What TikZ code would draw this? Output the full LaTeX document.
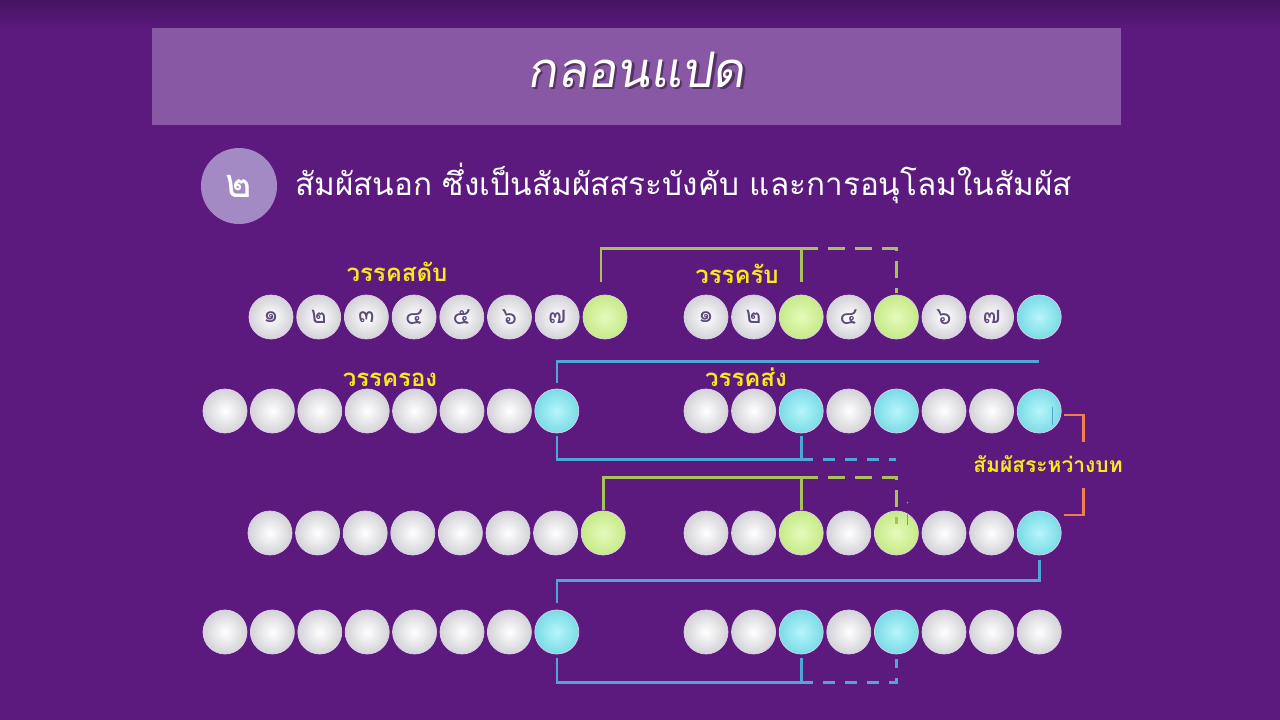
\documentclass[tikz,border=0pt]{standalone}
\usepackage{fontspec}
\usetikzlibrary{calc}
\newfontfamily\thai[Script=Thai]{Loma}
\newfontfamily\thaisl[Script=Thai,FakeSlant=0.15]{Loma}
\definecolor{bg}{HTML}{5C1A7F}
\definecolor{bgdark}{HTML}{461463}
\definecolor{titlebg}{HTML}{8858A4}
\definecolor{numbg}{HTML}{A48AC4}
\definecolor{digit}{HTML}{5E4B7E}
\definecolor{rim}{HTML}{DCCFE8}
\definecolor{wgrey}{HTML}{D3D3D8}
\definecolor{gin}{HTML}{E4FBBC}
\definecolor{gout}{HTML}{C6EA88}
\definecolor{cin}{HTML}{B6F6FA}
\definecolor{cout}{HTML}{7ADBE6}
\definecolor{gline}{HTML}{A8C25A}
\definecolor{cline}{HTML}{4FA7D8}
\definecolor{oline}{HTML}{EF7E50}
\definecolor{yell}{HTML}{F6EA1E}
\newcommand\digfont{\thai\fontsize{24}{24}\selectfont\color{digit}}
\begin{document}
\begin{tikzpicture}[x=1pt,y=-1pt,
  ball/.style={circle, minimum size=44pt, inner sep=0pt, draw=rim, line width=0.7pt},
  wb/.style={ball, inner color=white, outer color=wgrey},
  gb/.style={ball, inner color=gin, outer color=gout},
  cb/.style={ball, inner color=cin, outer color=cout},
  gl/.style={draw=gline, line width=2.6pt},
  cl/.style={draw=cline, line width=2.6pt},
  ol/.style={draw=oline, line width=2.6pt},
  lab/.style={text=yell, anchor=base, inner sep=0pt, font={\thai\bfseries\fontsize{24}{24}\selectfont}}]
\fill[bg] (0,0) rectangle (1280,720);
\useasboundingbox (0,0) rectangle (1280,720);
\shade[top color=bgdark, bottom color=bg] (0,0) rectangle (1280,30);
% title
\node[fill=titlebg, minimum width=969pt, minimum height=97pt, inner sep=0pt] (titlebox) at (636.5,76.5) {};
\node[anchor=base, inner sep=0pt, text=black, opacity=0.4] (tshadow) at (638.5,89.5) {\thaisl\fontsize{49}{49}\selectfont กลอนแปด};
\node[anchor=base, inner sep=0pt, text=white] (title) at (636,87) {\thaisl\fontsize{49}{49}\selectfont กลอนแปด};
% subtitle
\node[circle, fill=numbg, minimum size=76pt, inner sep=0pt] (num) at (239,186) {\thai\fontsize{40}{40}\selectfont\color{white}๒};
\node[anchor=base west, inner sep=0pt, text=white] (sub) at (295,195) {\thai\fontsize{31.5}{31.5}\selectfont สัมผัสนอก ซึ่งเป็นสัมผัสสระบังคับ และการอนุโลมในสัมผัส};
% labels
\node[lab] (l1) at (397,281) {วรรคสดับ};
\node[lab] (l2) at (737,283) {วรรครับ};
\node[lab] (l3) at (390,386) {วรรครอง};
\node[lab] (l4) at (746,386) {วรรคส่ง};
\node[lab, font={\thai\bfseries\fontsize{21}{21}\selectfont}] (l5) at (1048,472) {สัมผัสระหว่างบท};
% row 1
\foreach \i/\t in {1/๑,2/๒,3/๓,4/๔,5/๕,6/๖,7/๗}
  \node[wb] (a\i) at ({271+47.7*(\i-1)},317) {\digfont\t};
\node[gb] (a8) at (605,317) {};
\foreach \i/\s/\t in {1/wb/๑,2/wb/๒,3/gb/,4/wb/๔,5/gb/,6/wb/๖,7/wb/๗,8/cb/}
  \node[\s] (b\i) at ({706+47.6*(\i-1)},317) {\digfont\t};
% row 2
\foreach \i/\s in {1/wb,2/wb,3/wb,4/wb,5/wb,6/wb,7/wb,8/cb}
  \node[\s] (c\i) at ({225+47.4*(\i-1)},411) {};
\foreach \i/\s in {1/wb,2/wb,3/cb,4/wb,5/cb,6/wb,7/wb,8/cb}
  \node[\s] (d\i) at ({706+47.6*(\i-1)},411) {};
% row 3
\foreach \i/\s in {1/wb,2/wb,3/wb,4/wb,5/wb,6/wb,7/wb,8/gb}
  \node[\s] (e\i) at ({270+47.6*(\i-1)},533) {};
\foreach \i/\s in {1/wb,2/wb,3/gb,4/wb,5/gb,6/wb,7/wb,8/cb}
  \node[\s] (f\i) at ({706+47.6*(\i-1)},533) {};
% row 4
\foreach \i/\s in {1/wb,2/wb,3/wb,4/wb,5/wb,6/wb,7/wb,8/cb}
  \node[\s] (g\i) at ({225+47.4*(\i-1)},632) {};
\foreach \i/\s in {1/wb,2/wb,3/cb,4/wb,5/cb,6/wb,7/wb,8/wb}
  \node[\s] (h\i) at ({706+47.6*(\i-1)},632) {};
% connectors row 1 -> 2
\draw[gl, shorten <=13pt, shorten >=13pt] ($(a8.north)+(-4,0)$) -- ++(0,-46) -| (b3.north);
\draw[gl, dash pattern=on 17pt off 10pt, shorten >=2pt] ($(b3.north)+(0,-46)$) -| (b5.north);
\draw[cl, shorten <=6pt] (c8.north) |- ($(b8.south)+(0,22)$);
\draw[cl, shorten <=3pt, shorten >=3pt] (c8.south) -- ++(0,26) -| (d3.south);
\draw[cl, dash pattern=on 12pt off 10pt] ($(d3.south)+(0,26)$) -- ($(d5.south)+(0,26)$);
\draw[cline, line width=1.4pt] ($(d8.center)+(13,-4)$) -- ++(0,18);
% orange bracket
\draw[ol] ($(d8.east)+(2,4)$) -- ++(20,0) -- ++(0,27);
\draw[ol] ($(f8.east)+(2,-18)$) -- ++(20,0) -- ++(0,-27);
% row 3
\draw[gl, shorten <=1pt, shorten >=1pt] (e8.north) -- ++(0,-33) -| (f3.north);
\draw[gl, dash pattern=on 17pt off 10pt] ($(f3.north)+(0,-33)$) -| ($(f5.north)+(0,13)$);
\draw[cline, line width=1.4pt] ($(f5.north)+(11,2)$) -- ++(0,12);
\fill[cline] ($(f5.north)+(11,-8)$) circle (1pt);
% row 4
\draw[cl, shorten <=5pt, shorten >=7pt] (f8.south) -- ++(0,25) -| (g8.north);
\draw[cl, shorten <=4pt, shorten >=4pt] (g8.south) -- ++(0,28) -| (h3.south);
\draw[cl, dash pattern=on 12pt off 10pt, shorten >=5pt] ($(h3.south)+(0,28)$) -| (h5.south);
\end{tikzpicture}
\end{document}
